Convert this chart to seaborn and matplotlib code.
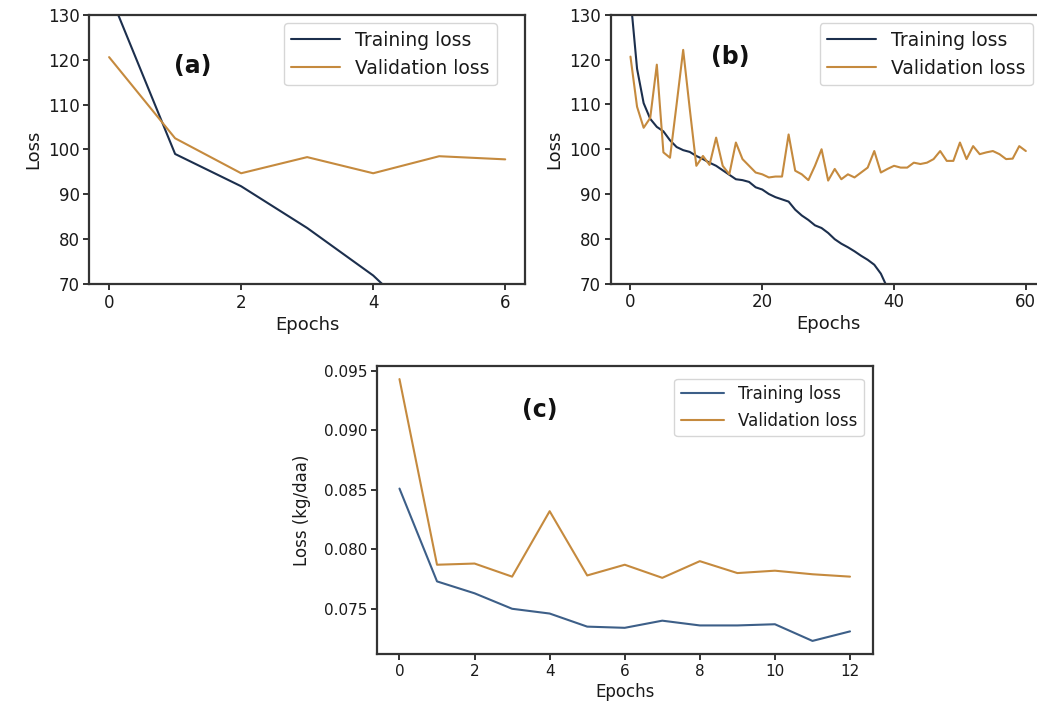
import numpy as np
import pandas as pd
import matplotlib
matplotlib.use("Agg")
import matplotlib.pyplot as plt
import seaborn as sns

# panel (a)
epochs_a = [0, 1, 2, 3, 4, 5, 6]
train_a = [135.0, 99.0, 91.8, 82.5, 71.9, 58.0]
val_a = [120.6, 102.5, 94.7, 98.3, 94.7, 98.5, 97.8]

# panel (b)
epochs_b = list(range(61))
train_b = [134.0, 118.0, 110.3, 106.8, 105.0, 104.0, 102.0, 100.5, 99.8, 99.4,
           98.5, 97.8, 97.0, 96.3, 95.3, 94.3, 93.3, 93.1, 92.7, 91.5,
           91.0, 90.0, 89.3, 88.8, 88.3, 86.5, 85.2, 84.2, 83.0, 82.4,
           81.3, 79.9, 78.9, 78.1, 77.2, 76.2, 75.3, 74.2, 72.2, 69.0, 67.5]
val_b = [120.7, 109.5, 104.8, 107.0, 118.9, 99.3, 98.1, 110.0, 122.2, 109.0,
         96.3, 98.5, 96.5, 102.6, 96.3, 94.4, 101.5, 97.8, 96.3, 94.8,
         94.4, 93.7, 93.9, 93.9, 103.3, 95.2, 94.4, 93.1, 96.3, 100.0,
         93.0, 95.6, 93.3, 94.4, 93.7, 94.8, 95.9, 99.6, 94.8, 95.6,
         96.3, 95.9, 95.9, 97.0, 96.7, 97.0, 97.8, 99.6, 97.4, 97.4,
         101.5, 97.8, 100.7, 98.9, 99.3, 99.6, 98.9, 97.8, 97.9, 100.7, 99.6]

# panel (c)
epochs_c = list(range(13))
train_c = [0.0851, 0.0773, 0.0763, 0.0750, 0.0746, 0.0735, 0.0734,
           0.0740, 0.0736, 0.0736, 0.0737, 0.0723, 0.0731]
val_c = [0.0943, 0.0787, 0.0788, 0.0777, 0.0832, 0.0778, 0.0787,
         0.0776, 0.0790, 0.0780, 0.0782, 0.0779, 0.0777]

sns.set_style("ticks")
plt.rcParams["font.family"] = ["DejaVu Sans"]
plt.rcParams["axes.edgecolor"] = "#333333"
plt.rcParams["axes.linewidth"] = 1.6
plt.rcParams["text.color"] = "#1a1a1a"
plt.rcParams["axes.labelcolor"] = "#1a1a1a"
plt.rcParams["xtick.labelcolor"] = "#1a1a1a"
plt.rcParams["ytick.labelcolor"] = "#1a1a1a"

navy = "#1c2f4d"
steel = "#3d5f88"
orange = "#c58a3e"

fig = plt.figure(figsize=(10.37, 7.03), dpi=100)


def panel(ax, ep_t, tr, ep_v, va, c_train, tick_fs, leg_fs, label, lab_xy, leg_anchor, ylabel, ypad):
    sns.lineplot(x=ep_t, y=tr, ax=ax, color=c_train, linewidth=1.5, label="Training loss")
    sns.lineplot(x=ep_v, y=va, ax=ax, color=orange, linewidth=1.5, label="Validation loss")
    ax.set_xlabel("Epochs", fontsize=tick_fs + 1, labelpad=3)
    ax.set_ylabel(ylabel, fontsize=tick_fs + 1, labelpad=ypad)
    ax.tick_params(labelsize=tick_fs, length=4, width=1.4, color="#333333", pad=3)
    for s in ax.spines.values():
        s.set_visible(True)
    ax.text(lab_xy[0], lab_xy[1], label, transform=ax.transAxes, fontsize=17,
            fontweight="bold", ha="center", va="center", color="#111111")
    ax.legend(loc="upper right", bbox_to_anchor=leg_anchor, borderaxespad=0,
              fontsize=leg_fs, handlelength=2.6, frameon=True)


ax_a = fig.add_axes([0.0861, 0.596, 0.4202, 0.3827])
panel(ax_a, epochs_a[:len(train_a)], train_a, epochs_a, val_a, navy, 12, 13.5,
      "(a)", (0.238, 0.81), (0.936, 0.97), "Loss", 4)
ax_a.set_ylim(70, 130)
ax_a.set_xticks([0, 2, 4, 6])

ax_b = fig.add_axes([0.5889, 0.5967, 0.4194, 0.382])
panel(ax_b, epochs_b[:len(train_b)], train_b, epochs_b, val_b, navy, 12, 13.5,
      "(b)", (0.275, 0.844), (0.971, 0.97), "Loss", 4)
ax_b.set_ylim(70, 130)
ax_b.set_xlim(-3, 63)
ax_b.set_xticks([0, 20, 40, 60])

ax_c = fig.add_axes([0.3635, 0.0697, 0.4779, 0.4097])
panel(ax_c, epochs_c, train_c, epochs_c, val_c, steel, 11, 12,
      "(c)", (0.329, 0.847), (0.982, 0.956), "Loss (kg/daa)", 9)
ax_c.set_xticks([0, 2, 4, 6, 8, 10, 12])
ax_c.set_yticks([0.075, 0.080, 0.085, 0.090, 0.095])

fig.savefig("out.png", dpi=100)
